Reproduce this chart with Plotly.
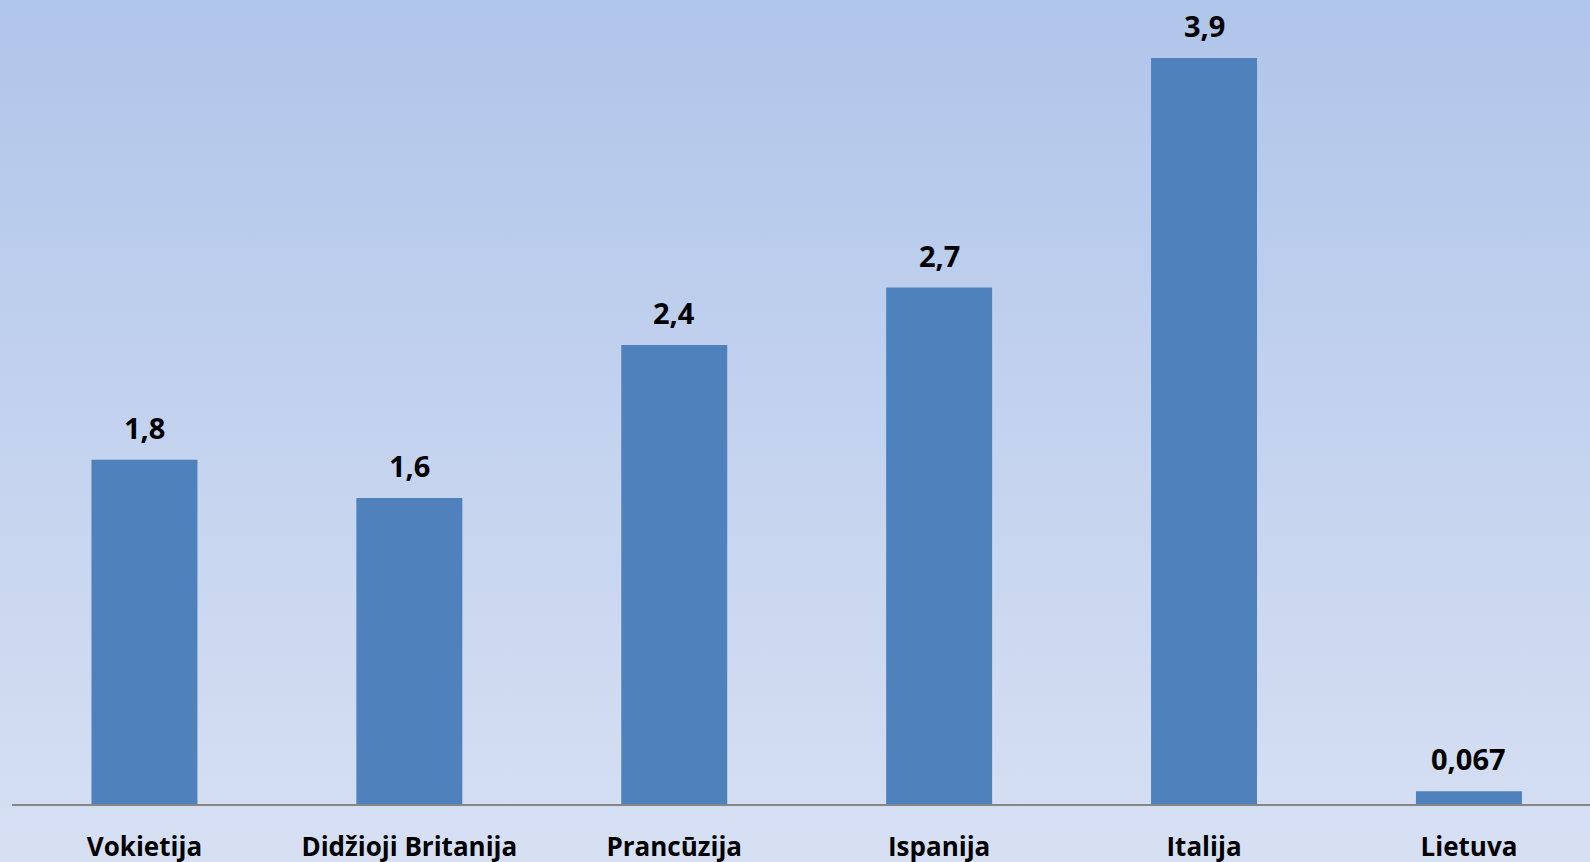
import base64
import plotly.graph_objects as go

# data
salys = ["Vokietija", "Didžioji Britanija", "Prancūzija", "Ispanija", "Italija", "Lietuva"]
reiksmes = [1.8, 1.6, 2.4, 2.7, 3.9, 0.067]

BAR = "#4F81BD"
AXIS = "#868686"
W, H = 1590, 862
ML, MR, MT, MB = 12, 0, 0, 58

# gradient background as an svg layout image (plotly has no gradient bg)
svg = ('<svg xmlns="http://www.w3.org/2000/svg" width="100" height="100" preserveAspectRatio="none">'
       '<defs><linearGradient id="g" x1="0" y1="0" x2="0" y2="1">'
       '<stop offset="0" stop-color="#B0C5EA"/><stop offset="1" stop-color="#D7E0F3"/>'
       '</linearGradient></defs><rect width="100" height="100" fill="url(#g)"/></svg>')
bg_uri = "data:image/svg+xml;base64," + base64.b64encode(svg.encode()).decode()

pw = W - ML - MR
ph = H - MT - MB

fig = go.Figure(go.Bar(x=salys, y=reiksmes, marker_color=BAR, marker_line_width=0, width=0.4))

for s, v in zip(salys, reiksmes):
    fig.add_annotation(x=s, y=v, text=f"{v:g}".replace(".", ","), showarrow=False,
                       yanchor="bottom", yshift=11,
                       font=dict(family="Open Sans", size=29, color="black", weight="bold"))

fig.add_layout_image(source=bg_uri, xref="paper", yref="paper",
                     x=-ML / pw, y=1 + MT / ph, sizex=W / pw, sizey=H / ph,
                     xanchor="left", yanchor="top", sizing="stretch", layer="below")

fig.update_layout(width=W, height=H, margin=dict(l=ML, r=MR, t=MT, b=MB),
                  paper_bgcolor="#D7E0F3", plot_bgcolor="rgba(0,0,0,0)",
                  showlegend=False, bargap=0.6)
fig.update_xaxes(range=[-0.5, 5.457], showline=True, linecolor=AXIS, linewidth=2,
                 ticks="outside", ticklen=19, tickcolor="rgba(0,0,0,0)", showgrid=False,
                 automargin=False,
                 tickfont=dict(family="Open Sans", size=26, color="black", weight="bold"))
fig.update_yaxes(range=[0, 4.203], visible=False, showgrid=False, zeroline=False,
                 automargin=False)

# drop the browser's default body margin so the chart sits at 0,0
fig.write_html("out.html", config={"displayModeBar": False},
               post_script="document.body.style.margin='0';document.body.style.overflow='hidden';")
